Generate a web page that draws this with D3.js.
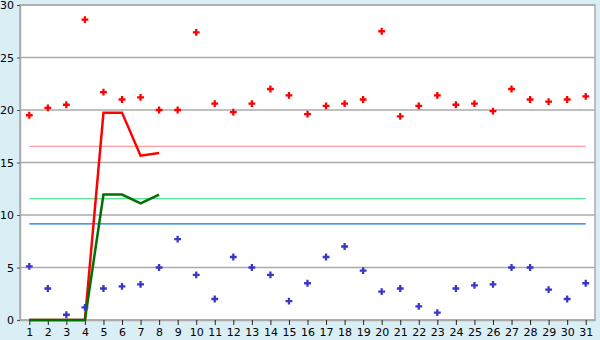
<!DOCTYPE html>
<html>
<head>
<meta charset="utf-8">
<script src="https://cdn.jsdelivr.net/npm/d3@7"></script>
<style>
  body { margin: 0; background: #daeef5; }
  svg { display: block; }
</style>
</head>
<body>
<div id="chart"></div>
<script>
const days = [1,2,3,4,5,6,7,8,9,10,11,12,13,14,15,16,17,18,19,20,21,22,23,24,25,26,27,28,29,30,31];
const highPoints = [19.5,20.2,20.5,28.6,21.7,21.0,21.2,20.0,20.0,27.4,20.6,19.8,20.6,22.0,21.4,19.6,20.4,20.6,21.0,27.5,19.4,20.4,21.4,20.5,20.6,19.9,22.0,21.0,20.8,21.0,21.3];
const lowPoints = [5.1,3.0,0.5,1.2,3.0,3.2,3.4,5.0,7.7,4.3,2.0,6.0,5.0,4.3,1.8,3.5,6.0,7.0,4.7,2.7,3.0,1.3,0.7,3.0,3.3,3.4,5.0,5.0,2.9,2.0,3.5];
const redLine = [0,0,0,0,19.75,19.75,15.65,15.9];
const greenLine = [0,0,0,0,11.95,11.95,11.1,11.95];
const refLines = [
  {value: 16.55, color: '#ff8080'},
  {value: 11.55, color: '#22e07a'},
  {value: 9.15, color: '#0a78e6'}
];
const yTicks = [0,5,10,15,20,25,30];

const width = 600, height = 340;
const plotLeft = 20, plotRight = 595, plotTop = 5, plotBottom = 320;
const fontFamily = '"DejaVu Sans", Verdana, sans-serif';

const svg = d3.select('#chart').append('svg')
    .attr('width', width)
    .attr('height', height)
    .style('font-family', fontFamily)
    .style('font-size', '11px');

const x = d3.scalePoint().domain(days).range([plotLeft, plotRight]).padding(0.5);
const y = d3.scaleLinear().domain([0, 30]).range([plotBottom, plotTop]);

// plot background
svg.append('rect')
  .attr('x', plotLeft).attr('y', plotTop)
  .attr('width', plotRight - plotLeft).attr('height', plotBottom - plotTop)
  .style('fill', 'white')
  .style('stroke', '#aaaaaa')
  .style('stroke-width', 1.5);

// horizontal grid
svg.selectAll('.grid')
    .data(yTicks)
  .enter()
    .append('line')
    .attr('x1', plotLeft).attr('x2', plotRight)
    .attr('y1', d => y(d))
    .attr('y2', d => y(d))
    .style('stroke', '#aaaaaa')
    .style('stroke-width', 1.5);

// y axis
const yAxis = svg.append('g')
  .attr('transform', 'translate(' + plotLeft + ',0)')
  .call(d3.axisLeft(y).tickValues(yTicks).tickSize(3).tickPadding(3));
yAxis.selectAll('line').style('stroke', '#555');
yAxis.select('.domain').style('stroke', '#aaaaaa').style('stroke-width', 1.5);
yAxis.selectAll('text').style('font-size', '11px').style('font-family', fontFamily).style('fill', '#000');

// x axis
const xAxis = svg.append('g')
  .attr('transform', 'translate(0,' + plotBottom + ')')
  .call(d3.axisBottom(x).tickSize(5).tickPadding(3).tickSizeOuter(0));
xAxis.selectAll('line').style('stroke', '#222');
xAxis.select('.domain').style('stroke', '#aaaaaa').style('stroke-width', 1.5);
xAxis.selectAll('text').style('font-size', '11px').style('font-family', fontFamily).style('fill', '#000');

// reference lines
svg.selectAll('.ref')
    .data(refLines)
  .enter()
    .append('line')
    .attr('x1', x(days[0])).attr('x2', x(days[days.length - 1]))
    .attr('y1', d => y(d.value)).attr('y2', d => y(d.value))
    .style('stroke', d => d.color)
    .style('stroke-width', 1.2);

// lines
const line = d3.line()
  .x((d, i) => x(days[i]))
  .y(d => y(d));

svg.append('path')
  .datum(redLine)
  .attr('d', line)
  .style('fill', 'none')
  .style('stroke', '#ff0000')
  .style('stroke-width', 2.5);

svg.append('path')
  .datum(greenLine)
  .attr('d', line)
  .style('fill', 'none')
  .style('stroke', '#007000')
  .style('stroke-width', 2.5);

// point markers
const marker = d3.symbol().type(d3.symbolCross).size(26);

svg.selectAll('.high')
    .data(highPoints)
  .enter()
    .append('path')
    .attr('d', marker)
    .attr('transform', (d, i) => 'translate(' + x(days[i]) + ',' + y(d) + ')')
    .style('fill', '#ff0000');

svg.selectAll('.low')
    .data(lowPoints)
  .enter()
    .append('path')
    .attr('d', marker)
    .attr('transform', (d, i) => 'translate(' + x(days[i]) + ',' + y(d) + ')')
    .style('fill', '#3a36c8');
</script>
</body>
</html>
